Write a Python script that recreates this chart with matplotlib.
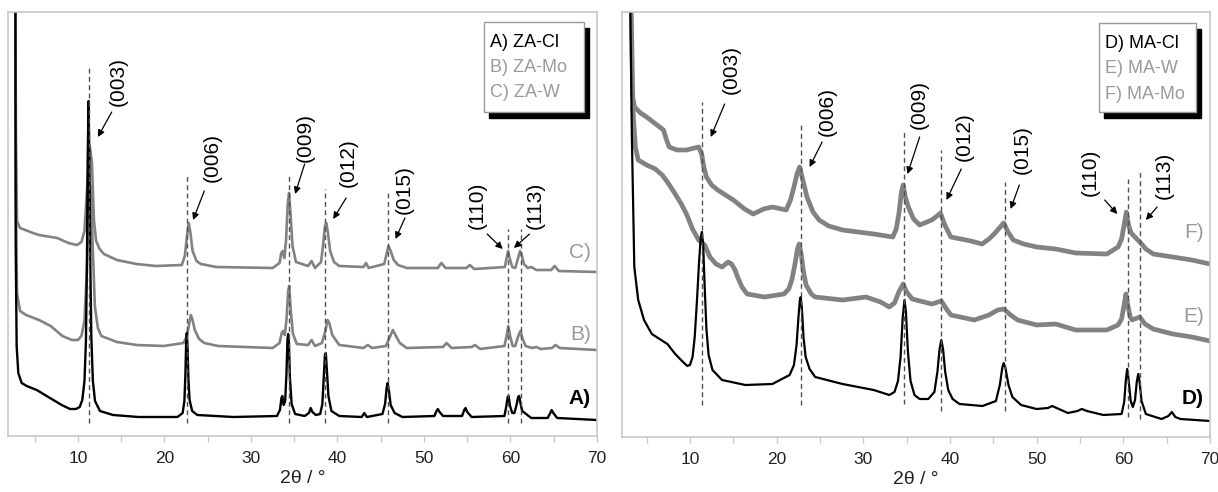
import matplotlib.pyplot as plt
from matplotlib.patches import Rectangle
from matplotlib.ticker import MultipleLocator

plt.rcParams['font.family'] = ['Liberation Sans', 'DejaVu Sans']

# ---- left panel: ZA samples (2theta in degrees, intensity in a.u.) ----
za_cl = [(2.75, 520), (2.80, 190), (2.91, 90), (3.10, 63), (3.49, 53), (4.07, 50), (5.23, 46),
         (6.76, 38), (8.12, 31), (9.08, 27), (9.77, 27), (10.2, 29), (10.5, 36), (10.75, 55),
         (10.92, 95), (11.03, 170), (11.12, 275), (11.22, 335), (11.32, 275), (11.42, 175),
         (11.54, 100), (11.72, 55), (11.97, 35), (12.54, 25), (14.05, 21), (17.0, 19), (21.5, 19),
         (22.1, 23), (22.3, 35), (22.42, 62), (22.5, 92), (22.58, 103), (22.66, 90), (22.76, 58),
         (22.9, 36), (23.2, 25), (23.8, 21), (28.0, 19), (33.0, 20), (33.35, 26), (33.52, 38),
         (33.62, 40), (33.78, 31), (33.95, 35), (34.1, 62), (34.22, 97), (34.3, 102), (34.38, 95),
         (34.5, 58), (34.7, 32), (35.1, 22), (36.2, 20), (36.7, 23), (36.9, 28), (37.1, 24),
         (37.5, 21), (38.0, 22), (38.25, 32), (38.42, 60), (38.55, 81), (38.65, 83), (38.78, 65),
         (38.95, 40), (39.3, 25), (40.2, 20), (42.8, 19), (43.1, 23), (43.4, 19), (45.2, 22),
         (45.5, 32), (45.68, 48), (45.8, 53), (45.95, 45), (46.15, 31), (46.6, 23), (47.5, 19),
         (51.2, 20), (51.45, 25), (51.6, 27), (51.8, 24), (52.2, 20), (54.4, 20), (54.65, 26),
         (54.8, 28), (55.0, 24), (55.5, 19), (59.3, 20), (59.52, 30), (59.68, 39), (59.78, 40),
         (59.95, 30), (60.2, 23), (60.45, 23), (60.7, 31), (60.88, 39), (61.0, 40), (61.15, 33),
         (61.35, 25), (61.8, 22), (62.4, 18), (64.3, 18), (64.6, 23), (64.75, 26), (64.95, 23),
         (65.4, 18), (70.0, 16)]

za_mo = [(2.75, 520), (2.82, 250), (2.95, 143), (3.3, 125), (4.0, 121), (5.5, 116), (6.85, 110),
         (8.2, 100), (9.3, 96), (10.0, 96), (10.4, 100), (10.75, 115), (11.0, 160), (11.3, 240),
         (11.5, 250), (11.7, 190), (11.95, 130), (12.3, 108), (12.7, 100), (14.5, 94), (16.8, 91),
         (19.9, 90), (22.2, 93), (22.6, 100), (22.85, 112), (23.05, 121), (23.25, 116), (23.5, 106),
         (24.0, 97), (24.6, 93), (26.2, 90), (32.5, 88), (33.3, 93), (33.55, 103), (33.7, 105),
         (33.9, 101), (34.1, 116), (34.3, 145), (34.42, 150), (34.6, 125), (34.85, 102), (35.3, 92),
         (36.6, 91), (37.0, 96), (37.4, 90), (38.2, 93), (38.6, 105), (38.85, 116), (39.05, 113),
         (39.4, 101), (40.2, 91), (43.0, 88), (43.5, 91), (44.0, 88), (45.6, 90), (46.1, 100),
         (46.4, 106), (46.7, 101), (47.2, 93), (48.0, 88), (52.2, 89), (52.6, 93), (53.2, 88),
         (55.5, 89), (55.9, 91), (56.5, 87), (59.3, 90), (59.55, 100), (59.75, 110), (59.95, 100),
         (60.25, 90), (60.55, 90), (60.9, 100), (61.15, 105), (61.4, 97), (61.75, 90), (62.5, 88),
         (63.0, 89), (63.5, 87), (64.8, 88), (65.2, 91), (65.7, 88), (70.0, 86)]

za_w = [(2.75, 520), (2.82, 300), (2.95, 215), (3.3, 208), (4.8, 203), (5.5, 201), (7.6, 198),
        (8.9, 193), (9.9, 191), (10.4, 194), (10.75, 205), (11.0, 240), (11.35, 290), (11.6, 275),
        (11.85, 215), (12.1, 195), (12.5, 187), (13.0, 182), (14.5, 176), (16.75, 172), (19.0, 170),
        (22.0, 171), (22.35, 180), (22.6, 200), (22.8, 213), (23.0, 203), (23.25, 185), (23.7, 175),
        (24.2, 172), (26.0, 169), (32.5, 168), (33.3, 173), (33.5, 183), (33.65, 185), (33.85, 178),
        (34.05, 195), (34.25, 232), (34.4, 243), (34.55, 225), (34.8, 190), (35.2, 174), (36.6, 170),
        (37.0, 175), (37.4, 168), (38.1, 174), (38.35, 192), (38.55, 210), (38.7, 213), (38.9, 203),
        (39.15, 185), (39.6, 174), (40.2, 170), (43.0, 169), (43.3, 173), (43.6, 168), (45.4, 172),
        (45.7, 183), (45.9, 190), (46.15, 185), (46.5, 176), (47.0, 171), (48.0, 168), (51.6, 168),
        (52.0, 173), (52.5, 168), (54.9, 168), (55.3, 171), (55.8, 167), (59.35, 169), (59.55, 178),
        (59.72, 185), (59.9, 178), (60.2, 169), (60.55, 168), (60.85, 177), (61.1, 185), (61.3, 181),
        (61.55, 172), (62.0, 168), (62.4, 169), (63.0, 166), (64.7, 166), (65.1, 170), (65.6, 165),
        (70.0, 164)]

# ---- right panel: MA samples ----
ma_cl = [(3.0, 520), (3.3, 300), (3.58, 170), (4.03, 137), (4.7, 117), (5.6, 103), (6.5, 98),
         (7.4, 93), (8.3, 83), (9.2, 75), (9.7, 71), (10.0, 72), (10.3, 80), (10.55, 100),
         (10.8, 135), (11.05, 175), (11.25, 200), (11.38, 205), (11.52, 193), (11.7, 150),
         (11.9, 108), (12.15, 82), (12.6, 67), (13.7, 57), (16.4, 52), (19.5, 53), (21.5, 62),
         (22.0, 72), (22.3, 92), (22.52, 120), (22.68, 137), (22.78, 140), (22.92, 128), (23.1, 100),
         (23.35, 80), (23.8, 68), (24.45, 60), (27.6, 53), (31.2, 47), (33.0, 42), (33.6, 45),
         (34.0, 56), (34.3, 80), (34.55, 120), (34.75, 137), (34.92, 125), (35.15, 85), (35.45, 56),
         (35.9, 42), (36.5, 38), (37.5, 38), (38.2, 45), (38.55, 65), (38.8, 88), (39.0, 97),
         (39.2, 88), (39.45, 65), (39.8, 47), (40.3, 38), (41.1, 33), (43.75, 31), (45.3, 36),
         (45.75, 52), (46.05, 70), (46.2, 74), (46.4, 69), (46.75, 52), (47.2, 40), (48.2, 32),
         (50.0, 28), (51.3, 29), (51.8, 31), (52.3, 29), (53.6, 24), (54.7, 26), (55.2, 28),
         (55.8, 26), (57.7, 22), (59.8, 23), (60.1, 35), (60.3, 58), (60.45, 68), (60.6, 58),
         (60.85, 36), (61.1, 30), (61.35, 37), (61.55, 55), (61.72, 63), (61.88, 55), (62.1, 36),
         (62.6, 23), (64.4, 18), (65.2, 21), (65.6, 25), (66.0, 20), (66.6, 18), (70.0, 16)]

ma_w = [(3.4, 330), (3.7, 290), (4.03, 277), (5.0, 272), (6.0, 268), (6.8, 262), (7.4, 255),
        (8.3, 243), (9.0, 233), (9.6, 223), (10.3, 208), (11.0, 197), (11.7, 192), (12.3, 180),
        (13.0, 173), (13.7, 170), (14.4, 175), (14.8, 173), (15.2, 167), (15.5, 160), (16.0, 150),
        (16.6, 143), (18.6, 140), (20.85, 143), (21.4, 148), (21.75, 157), (22.1, 172), (22.4, 188),
        (22.6, 193), (22.85, 182), (23.1, 165), (23.4, 152), (24.0, 143), (24.45, 140), (27.6, 137),
        (30.3, 140), (32.0, 135), (33.0, 130), (33.6, 134), (34.1, 145), (34.6, 153), (35.0, 145),
        (35.65, 138), (37.9, 133), (39.0, 136), (39.6, 128), (40.1, 122), (42.8, 117), (44.5, 122),
        (45.5, 127), (46.2, 128), (47.0, 122), (47.8, 117), (50.0, 112), (52.2, 113), (54.5, 107),
        (58.1, 107), (59.4, 112), (59.8, 118), (60.05, 130), (60.3, 143), (60.55, 130), (60.8, 120),
        (61.0, 117), (61.9, 120), (62.5, 113), (63.45, 108), (65.7, 103), (67.9, 100), (70.0, 96)]

ma_mo = [(3.2, 440), (3.4, 340), (3.6, 330), (4.3, 324), (5.0, 320), (6.05, 313), (6.95, 307),
         (7.3, 297), (7.6, 290), (8.5, 287), (9.6, 287), (11.0, 290), (11.35, 283), (11.6, 270),
         (11.9, 260), (12.5, 252), (13.2, 247), (15.0, 237), (16.3, 228), (17.3, 223), (18.5, 228),
         (19.5, 230), (21.1, 227), (21.6, 237), (22.0, 250), (22.35, 263), (22.65, 270), (23.0, 258),
         (23.5, 240), (24.2, 225), (24.9, 217), (26.0, 211), (27.6, 207), (31.2, 203), (33.4, 200),
         (33.8, 208), (34.1, 223), (34.4, 245), (34.6, 252), (34.85, 240), (35.2, 230), (35.8, 218),
         (36.5, 212), (37.9, 217), (38.5, 221), (38.9, 224), (39.4, 212), (40.1, 200), (42.4, 196),
         (43.7, 193), (44.5, 198), (45.1, 203), (45.8, 210), (46.2, 214), (46.7, 205), (47.3, 197),
         (48.5, 193), (50.0, 190), (52.2, 188), (54.5, 184), (58.1, 183), (59.4, 190), (59.8, 198),
         (60.05, 210), (60.35, 225), (60.6, 212), (60.85, 205), (61.0, 203), (61.9, 195),
         (62.6, 188), (63.45, 183), (65.7, 180), (67.9, 177), (70.0, 173)]

hkl = ['(003)', '(006)', '(009)', '(012)', '(015)', '(110)', '(113)']

# reflection markers: position, top, bottom of dashed line
za_lines = [(11.3, 368, 13), (22.6, 263, 13), (34.35, 263, 13), (38.6, 247, 13),
            (45.85, 243, 13), (59.75, 207, 13), (61.2, 207, 13)]
ma_lines = [(11.35, 335, 32), (22.8, 313, 32), (34.75, 305, 33), (39.0, 287, 26),
            (46.3, 255, 26), (60.5, 258, 20), (61.9, 265, 18)]

# label centre, arrow start, arrow tip
za_notes = [((14.6, 354), (13.9, 324), (12.3, 299)), ((25.5, 279), (24.6, 245), (23.3, 216)),
            ((36.3, 298), (36.2, 272), (35.1, 242)), ((41.2, 273), (41.0, 238), (39.5, 217)),
            ((47.7, 246), (47.8, 218), (46.7, 197)), ((56.1, 231), (57.3, 202), (59.1, 187)),
            ((62.9, 231), (62.2, 202), (60.4, 188))]
ma_notes = [((14.8, 368), (14.0, 333), (12.4, 300)), ((25.8, 326), (25.25, 295), (23.8, 270)),
            ((36.4, 333), (36.5, 300), (35.1, 263)), ((41.6, 300), (41.3, 268), (39.6, 237)),
            ((48.3, 287), (48.0, 252), (47.0, 228)), ((56.2, 265), (57.85, 237), (59.3, 223)),
            ((64.7, 262), (63.9, 230), (62.6, 217))]

za_legend = ['A) ZA-Cl', 'B) ZA-Mo', 'C) ZA-W']
ma_legend = ['D) MA-Cl', 'E) MA-W', 'F) MA-Mo']

GRAY = '#828282'
LGRAY = '#9a9a9a'


def draw_panel(ax, curves, lines, notes, legend, tags, xlim, ylim):
    for data, col, lw in curves:
        xs, ys = zip(*data)
        ax.plot(xs, ys, color=col, lw=lw, solid_joinstyle='round', solid_capstyle='round')
    for x, top, bot in lines:
        ax.plot([x, x], [bot, top], color='#505050', lw=1.0, dashes=(3.5, 2.5), zorder=4)
    for lab, (txt, start, tip) in zip(hkl, notes):
        ax.text(txt[0], txt[1], lab, rotation=90, ha='center', va='center',
                fontsize=15, zorder=5)
        ax.annotate('', xy=tip, xytext=start,
                    arrowprops=dict(arrowstyle='-|>', color='k', lw=0.9,
                                    mutation_scale=10, shrinkA=0, shrinkB=0), zorder=5)
    for (txt, y, col, bold) in tags:
        ax.text(69.3, y, txt, ha='right', va='center', fontsize=15, color=col,
                fontweight='bold' if bold else 'normal')

    ax.set_xlim(*xlim)
    ax.set_ylim(*ylim)
    ax.set_yticks([])
    ax.xaxis.set_major_locator(MultipleLocator(10))
    ax.xaxis.set_minor_locator(MultipleLocator(5))
    ax.tick_params(axis='x', which='both', direction='out', length=4, width=1,
                   color='#c8c8c8', labelsize=12.5, labelcolor='#222222', pad=7)
    for s in ax.spines.values():
        s.set_color('#c8c8c8')
        s.set_linewidth(1.2)
    ax.set_xlabel('2θ / °', fontsize=14, labelpad=3, color='#222222')

    # legend box with black drop shadow
    bx, by, bw, bh = legend[0]
    ax.add_patch(Rectangle((bx + 0.009, by - 0.014), bw, bh, transform=ax.transAxes,
                           facecolor='black', edgecolor='black', zorder=6, clip_on=False))
    ax.add_patch(Rectangle((bx, by), bw, bh, transform=ax.transAxes,
                           facecolor='white', edgecolor='#999999', lw=1, zorder=7, clip_on=False))
    for (txt, ty, col) in legend[1]:
        ax.text(bx + 0.011, ty, txt, transform=ax.transAxes, ha='left', va='center',
                fontsize=13, color=col, zorder=8)


fig = plt.figure(figsize=(12.18, 4.92), dpi=100)
ax1 = fig.add_axes([8 / 1218, 56 / 492, 589 / 1218, 424 / 492])
ax2 = fig.add_axes([622 / 1218, 55 / 492, 588 / 1218, 425 / 492])

draw_panel(ax1,
           [(za_w, GRAY, 1.9), (za_mo, GRAY, 1.9), (za_cl, 'black', 1.7)],
           za_lines, za_notes,
           ((0.808, 0.764, 0.170, 0.212),
            [(za_legend[0], 0.927, 'black'), (za_legend[1], 0.868, LGRAY), (za_legend[2], 0.809, LGRAY)]),
           [('C)', 184, LGRAY, False), ('B)', 101, LGRAY, False), ('A)', 38, 'black', True)],
           (1.91, 70), (0, 424))

draw_panel(ax2,
           [(ma_mo, GRAY, 3.4), (ma_w, GRAY, 3.4), (ma_cl, 'black', 1.6)],
           ma_lines, ma_notes,
           ((0.811, 0.765, 0.165, 0.209),
            [(ma_legend[0], 0.927, 'black'), (ma_legend[1], 0.868, LGRAY), (ma_legend[2], 0.805, LGRAY)]),
           [('F)', 204, LGRAY, False), ('E)', 120, LGRAY, False), ('D)', 39, 'black', True)],
           (2.16, 70), (0, 425))

fig.savefig('out.png', dpi=100)
